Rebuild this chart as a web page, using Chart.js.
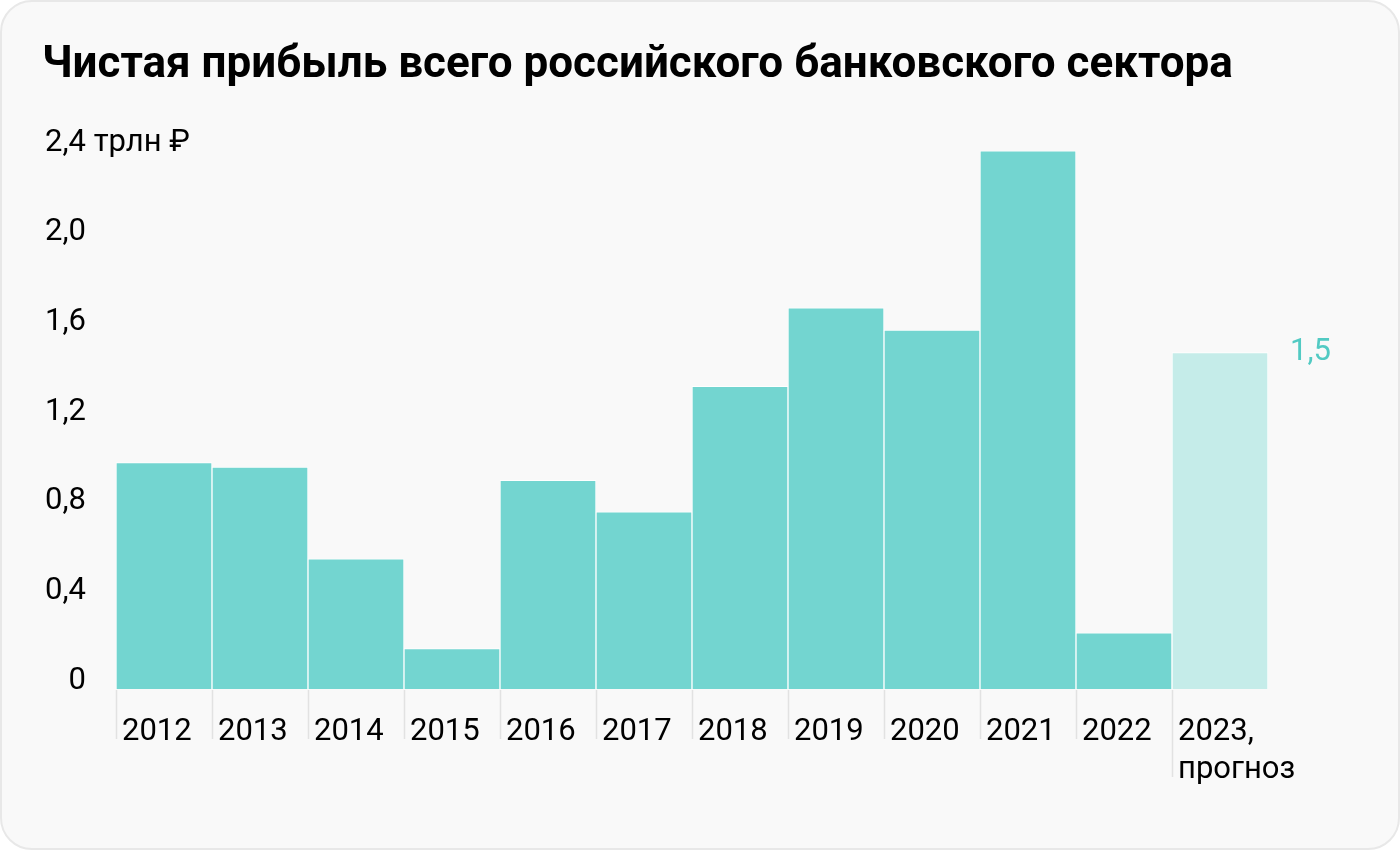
<!DOCTYPE html>
<html lang="ru">
<head>
<meta charset="utf-8">
<title>Чистая прибыль всего российского банковского сектора</title>
<script src="https://cdn.jsdelivr.net/npm/chart.js@4.4.1/dist/chart.umd.min.js"></script>
<style>
  html, body { margin: 0; padding: 0; background: #ffffff; }
  #card {
    position: absolute; left: 0; top: 0;
    width: 1396px; height: 846px;
    background: #f9f9f9;
    border: 2px solid #e8e8e8;
    border-radius: 32px;
  }
  #wrap { position: absolute; left: 0; top: 0; width: 1400px; height: 850px; }
</style>
</head>
<body>
<div id="card"></div>
<div id="wrap"><canvas id="profitChart" width="1400" height="850"></canvas></div>
<script>
// chart data
const years = ["2012", "2013", "2014", "2015", "2016", "2017", "2018", "2019", "2020", "2021", "2022", ["2023,", "прогноз"]];
const profit = [1.01, 0.99, 0.58, 0.18, 0.93, 0.79, 1.35, 1.70, 1.60, 2.40, 0.25, 1.50];
const isForecast = [false, false, false, false, false, false, false, false, false, false, false, true];
const yTicks = [0, 0.4, 0.8, 1.2, 1.6, 2.0, 2.4];
const yUnit = " трлн ₽";

const FONT = "Roboto, 'Noto Sans', sans-serif";
const barColor = "#73d5d0";
const forecastColor = "#c5ece9";
const labelColor = "#52cac3";

// formats number with russian comma
function fmt(v) {
  if (v === 0) return "0";
  return v.toFixed(1).replace(".", ",");
}

// small tick lines below each column + unit after top label + value of forecast
const extrasPlugin = {
  id: "extras",
  afterDraw(chart) {
    const ctx = chart.ctx;
    const x = chart.scales.x;
    const y = chart.scales.y;
    const half = (x.getPixelForValue(1) - x.getPixelForValue(0)) / 2;
    const bottom = chart.chartArea.bottom;

    ctx.save();
    ctx.strokeStyle = "#e2e2e2";
    ctx.lineWidth = 1.5;
    years.forEach((label, i) => {
      const lines = Array.isArray(label) ? label.length : 1;
      const px = Math.round(x.getPixelForValue(i) - half) + 0.5;
      ctx.beginPath();
      ctx.moveTo(px, bottom + 1);
      ctx.lineTo(px, bottom + 50 + (lines - 1) * 38);
      ctx.stroke();
    });

    // unit after the top y label
    const top = yTicks[yTicks.length - 1];
    ctx.font = "31px " + FONT;
    ctx.fillStyle = "#000";
    ctx.textAlign = "left";
    ctx.textBaseline = "middle";
    ctx.fillText(yUnit, y.right - 30, y.getPixelForValue(top) - 8);

    // forecast value label
    const meta = chart.getDatasetMeta(0);
    profit.forEach((v, i) => {
      if (!isForecast[i]) return;
      const bar = meta.data[i];
      ctx.fillStyle = labelColor;
      ctx.fillText(fmt(v), bar.x + bar.width / 2 + 22, bar.y);
    });
    ctx.restore();
  }
};

const profitChart = new Chart(document.getElementById("profitChart"), {
  type: "bar",
  data: {
    labels: years,
    datasets: [{
      data: profit,
      backgroundColor: isForecast.map(f => f ? forecastColor : barColor),
      borderColor: "#ffffff",
      borderWidth: 1,
      borderSkipped: "bottom",
      barPercentage: 1,
      categoryPercentage: 1
    }]
  },
  options: {
    responsive: false,
    animation: false,
    layout: { padding: { left: 42, right: 132, top: 0, bottom: 0 } },
    plugins: {
      legend: { display: false },
      tooltip: { enabled: false },
      title: {
        display: true,
        text: "Чистая прибыль всего российского банковского сектора",
        align: "start",
        color: "#000",
        font: { family: FONT, size: 44, weight: "700", lineHeight: 1.2 },
        padding: { top: 40, bottom: 58 }
      }
    },
    scales: {
      x: {
        offset: true,
        grid: { display: false, drawTicks: false, tickLength: 0 },
        border: { display: false },
        ticks: {
          align: "start",
          labelOffset: -42,
          padding: 25,
          color: "#000",
          maxRotation: 0,
          autoSkip: false,
          font: { family: FONT, size: 31, lineHeight: 1.2 }
        },
        afterFit(scale) { scale.height = 161; }
      },
      y: {
        min: 0,
        max: 2.4,
        afterBuildTicks(scale) { scale.ticks = yTicks.map(v => ({ value: v })); },
        grid: { display: false, drawTicks: false, tickLength: 0 },
        border: { display: false },
        ticks: {
          padding: 30,
          labelOffset: -8,
          color: "#000",
          font: { family: FONT, size: 31 },
          callback: (v) => fmt(v)
        },
        afterFit(scale) { scale.width = 74; }
      }
    }
  },
  plugins: [extrasPlugin]
});
</script>
</body>
</html>
